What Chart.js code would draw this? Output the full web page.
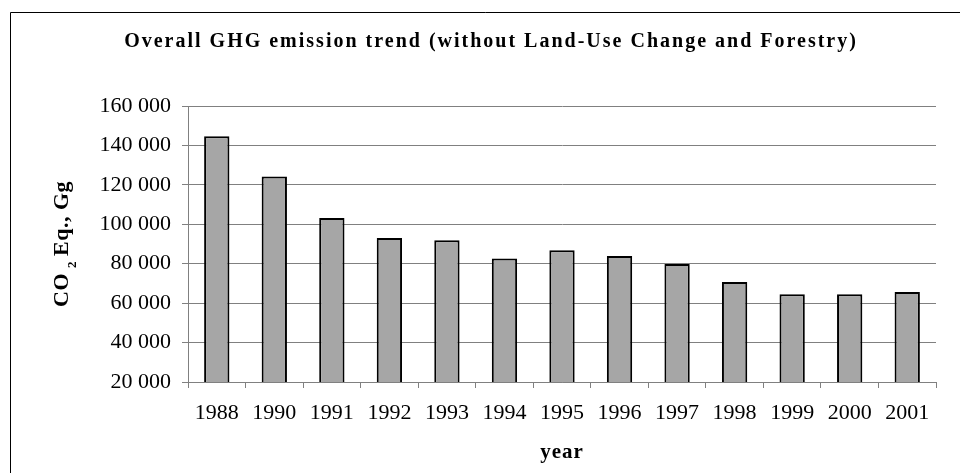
<!DOCTYPE html>
<html>
<head>
<meta charset="utf-8">
<title>Overall GHG emission trend</title>
<script src="https://cdn.jsdelivr.net/npm/chart.js@4/dist/chart.umd.min.js"></script>
<style>
  html, body { margin: 0; padding: 0; background: #fff; overflow: hidden; }
  canvas { display: block; }
</style>
</head>
<body>
<canvas id="chart" width="960" height="473"></canvas>
<script>
// Emissions by year, CO2 equivalent in Gg (without LUCF)
const years = ['1988', '1990', '1991', '1992', '1993', '1994', '1995', '1996', '1997', '1998', '1999', '2000', '2001'];
const emissions = [144600, 124300, 103200, 93000, 91900, 82700, 86800, 83900, 79900, 70700, 64500, 64500, 65600];

// Axis range and labels
const yMin = 20000;
const yMax = 160000;
const yStep = 20000;

const chartTitle = 'Overall GHG emission trend (without Land-Use Change and Forestry)';
const xTitle = 'year';
const yTitleParts = ['CO', '2', 'Eq., Gg'];

const SERIF = '"Liberation Serif", "Times New Roman", Times, serif';
const GRID = '#808080';

function groupThousands(v) {
  return String(v).replace(/\B(?=(\d{3})+(?!\d))/g, ' ');
}

// Frame, main title and axis titles (the y title carries a subscript)
const decorations = {
  id: 'decorations',
  afterDraw(chart) {
    const ctx = chart.ctx;
    const area = chart.chartArea;
    ctx.save();

    // outer frame
    ctx.strokeStyle = '#000';
    ctx.lineWidth = 1;
    ctx.beginPath();
    ctx.moveTo(10.5, chart.height + 2);
    ctx.lineTo(10.5, 12.5);
    ctx.lineTo(chart.width + 2, 12.5);
    ctx.stroke();

    ctx.fillStyle = '#000';
    ctx.textBaseline = 'middle';

    // main title
    ctx.font = 'bold 20px ' + SERIF;
    ctx.letterSpacing = '2px';
    ctx.textAlign = 'center';
    ctx.fillText(chartTitle, 491, 42);

    // x axis title
    ctx.font = 'bold 21px ' + SERIF;
    ctx.letterSpacing = '1px';
    ctx.fillText(xTitle, (area.left + area.right) / 2, 453);

    // y axis title, rotated, with subscript
    ctx.letterSpacing = '0.5px';
    ctx.textAlign = 'left';
    ctx.textBaseline = 'alphabetic';
    const big = 'bold 22px ' + SERIF;
    const small = 'bold 13px ' + SERIF;
    ctx.font = big;
    const w1 = ctx.measureText(yTitleParts[0]).width;
    const w3 = ctx.measureText(yTitleParts[2]).width;
    ctx.font = small;
    const w2 = ctx.measureText(yTitleParts[1]).width;
    const gap1 = 5, gap2 = 5;
    const total = w1 + gap1 + w2 + gap2 + w3;
    ctx.translate(68, (area.top + area.bottom) / 2);
    ctx.rotate(-Math.PI / 2);
    let x = -total / 2;
    ctx.font = big;
    ctx.fillText(yTitleParts[0], x, 0);
    x += w1 + gap1;
    ctx.font = small;
    ctx.fillText(yTitleParts[1], x, 8);
    x += w2 + gap2;
    ctx.font = big;
    ctx.fillText(yTitleParts[2], x, 0);

    ctx.restore();
  }
};

new Chart(document.getElementById('chart'), {
  type: 'bar',
  data: {
    labels: years,
    datasets: [{
      data: emissions,
      backgroundColor: '#a6a6a6',
      borderColor: '#000',
      borderWidth: 2,
      borderSkipped: false,
      barPercentage: 0.44,
      categoryPercentage: 1
    }]
  },
  options: {
    responsive: false,
    animation: false,
    devicePixelRatio: 1,
    layout: { padding: { left: 0, top: 106, right: 24, bottom: 0 } },
    plugins: {
      legend: { display: false },
      title: { display: false },
      tooltip: { enabled: false }
    },
    scales: {
      x: {
        offset: true,
        afterFit(scale) { scale.height = 91; },
        grid: {
          offset: true,
          drawOnChartArea: false,
          drawTicks: true,
          tickLength: 6,
          color: GRID,
          lineWidth: 1
        },
        border: { display: true, color: GRID, width: 1 },
        ticks: {
          color: '#000',
          padding: 12,
          maxRotation: 0,
          autoSkip: false,
          font: { family: SERIF, size: 22 }
        }
      },
      y: {
        min: yMin,
        max: yMax,
        afterFit(scale) { scale.width = 188; },
        grid: {
          drawTicks: true,
          tickLength: 6,
          color: GRID,
          lineWidth: 1
        },
        border: { display: true, color: GRID, width: 1 },
        ticks: {
          stepSize: yStep,
          color: '#000',
          padding: 11,
          font: { family: SERIF, size: 22 },
          callback: (v) => groupThousands(v)
        }
      }
    }
  },
  plugins: [decorations]
});
</script>
</body>
</html>
